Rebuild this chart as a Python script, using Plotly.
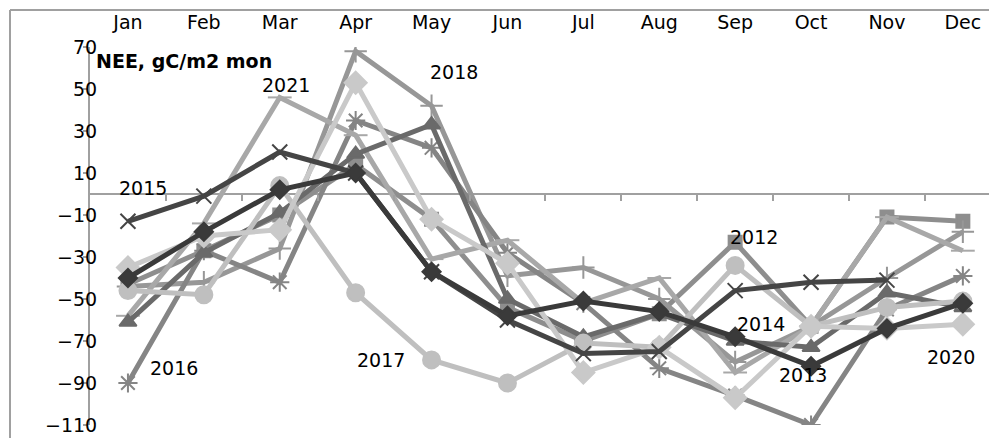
import plotly.graph_objects as go

months = ["Jan", "Feb", "Mar", "Apr", "May", "Jun", "Jul", "Aug", "Sep", "Oct", "Nov", "Dec"]
y_ticks = [70, 50, 30, 10, -10, -30, -50, -70, -90, -110]

nee_2012 = [-43, -27, -10, 14, -12, -54, -70, -57, -23, -63, -11, -13]
nee_2013 = [-40, -18, 2, 10, -37, -58, -51, -56, -68, -82, -64, -52]
nee_2014 = [-61, -28, -9, 19, 33, -50, -68, -57, -70, -73, -47, -54]
nee_2015 = [-13, -1, 20, 10, -37, -60, -76, -75, -46, -42, -41, None]
nee_2016 = [-90, -27, -42, 35, 22, -28, -52, -83, -96, -110, -55, -39]
nee_2017 = [-46, -48, 4, -47, -79, -90, -71, -73, -34, -63, -54, -51]
nee_2018 = [-44, -42, -26, 68, 42, -39, -35, -50, -80, -63, -40, -18]
nee_2020 = [-35, -20, -17, 53, -12, -33, -85, -73, -97, -63, -64, -62]
nee_2021 = [-58, -14, 46, 28, -31, -22, -52, -40, -85, -63, -11, -27]

# year label positions (month index, value)
labels = [("2015", 0.2, 3), ("2021", 2.08, 52), ("2018", 4.29, 58), ("2016", 0.61, -83),
          ("2017", 3.34, -79), ("2012", 8.25, -20.5), ("2014", 8.34, -62),
          ("2013", 8.9, -86), ("2020", 10.84, -77.6)]

series = [
    ("2012", nee_2012, "#8e8e8e", "square", 13),
    ("2018", nee_2018, "#979797", "cross-thin", 16),
    ("2016", nee_2016, "#858585", "asterisk", 16),
    ("2021", nee_2021, "#a8a8a8", "line-ew", 17),
    ("2014", nee_2014, "#6a6a6a", "triangle-up", 15),
    ("2017", nee_2017, "#bfbfbf", "circle", 17),
    ("2020", nee_2020, "#c9c9c9", "diamond", 17),
    ("2015", nee_2015, "#454545", "x-thin", 15),
    ("2013", nee_2013, "#3a3a3a", "diamond", 14),
]

x = list(range(12))
fig = go.Figure()
for name, vals, col, sym, sz in series:
    fig.add_trace(go.Scatter(x=x, y=vals, name=name, mode="lines+markers",
                             line=dict(color=col, width=5),
                             marker=dict(symbol=sym, size=sz, color=col,
                                         line=dict(color=col, width=2))))

for txt, lx, ly in labels:
    fig.add_annotation(x=lx, y=ly, text=txt, showarrow=False,
                       font=dict(size=19, color="black"))

fig.add_annotation(x=0, y=1, xref="paper", yref="paper", xanchor="left", yanchor="top",
                   xshift=4, yshift=-1, text="<b>NEE, gC/m2 mon</b>", showarrow=False,
                   font=dict(size=19, color="black"))

# outer chart border
fig.add_shape(type="line", xref="paper", yref="paper", x0=-80 / 907, x1=1.01,
              y0=1 + 37 / 378, y1=1 + 37 / 378, line=dict(color="#a0a0a0", width=2))
fig.add_shape(type="line", xref="paper", yref="paper", x0=-80 / 907, x1=-80 / 907,
              y0=-0.1, y1=1 + 37 / 378, line=dict(color="#a0a0a0", width=2))

# page body has an 8px margin, so the figure is 8px smaller than the window
fig.update_layout(
    width=989, height=430,
    margin=dict(l=82, r=0, t=39, b=13),
    plot_bgcolor="white", paper_bgcolor="white",
    showlegend=False,
    font=dict(family="DejaVu Sans", size=19, color="black"),
    xaxis=dict(range=[-0.5, 11.45], tickvals=x, ticktext=months, side="top",
               showgrid=False, zeroline=False, showline=False, ticks="",
               ticklabelstandoff=13, automargin=False),
    xaxis2=dict(range=[-0.5, 11.45], overlaying="x", anchor="free", position=110 / 180,
                tickvals=[i + 0.5 for i in range(11)], ticks="outside", ticklen=6,
                tickcolor="#a0a0a0", tickwidth=2, showticklabels=False,
                showgrid=False, zeroline=False, showline=False, automargin=False),
    yaxis=dict(range=[-110, 70], tickvals=y_ticks, showgrid=False,
               zeroline=True, zerolinecolor="#a0a0a0", zerolinewidth=2,
               showline=True, linecolor="#a0a0a0", linewidth=2,
               ticks="outside", ticklen=5, tickcolor="#a0a0a0", tickwidth=2,
               ticklabelstandoff=-18, automargin=False),
)
fig.add_trace(go.Scatter(x=[None], y=[None], xaxis="x2", showlegend=False))

fig.write_html("out.html")
